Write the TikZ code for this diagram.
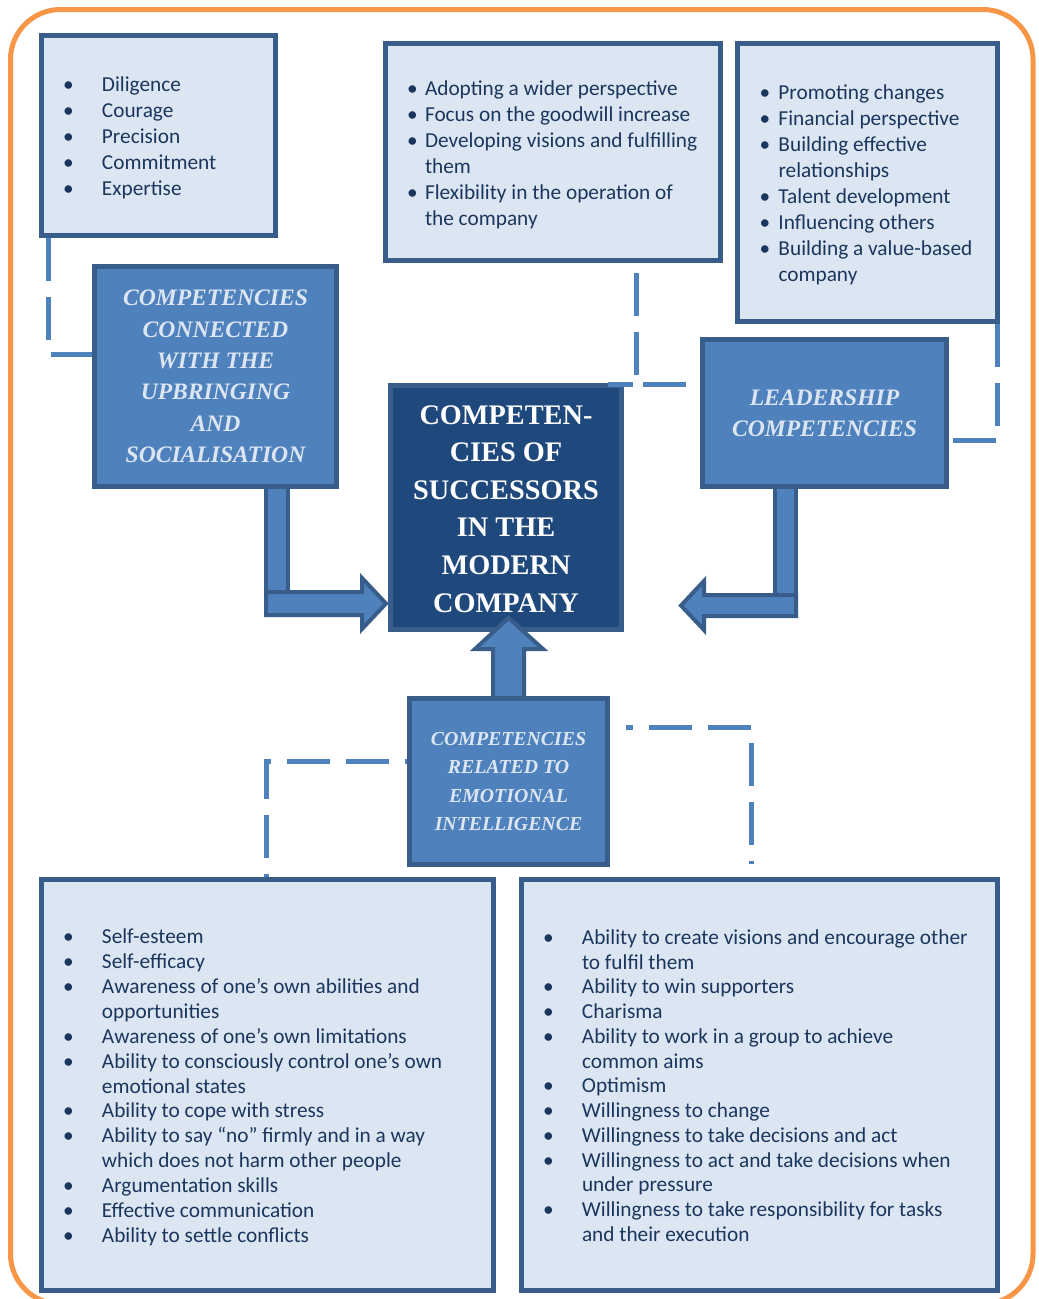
\documentclass[tikz,border=0pt]{standalone}
\usepackage{fontspec}
\setmainfont{Carlito}
\newfontfamily\titlefont{Liberation Serif}
\usetikzlibrary{calc}
\definecolor{lightfill}{HTML}{DCE6F2}
\definecolor{boxborder}{HTML}{385D8A}
\definecolor{midfill}{HTML}{4F81BD}
\definecolor{darkfill}{HTML}{1F497D}
\definecolor{framecol}{HTML}{F79646}
\definecolor{txtcol}{HTML}{1B365D}
\definecolor{titlecol}{HTML}{DCE6F2}
\newlength\bulw
\newcommand\bl[1]{\makebox[\bulw][l]{\textbullet}#1}
\newcommand\cl[1]{\hspace*{\bulw}#1}
\newcommand\lowered[1]{\raisebox{-3pt}[\height][\depth]{#1}}
\begin{document}
\begin{tikzpicture}[x=1pt,y=-1pt,
  lightbox/.style={draw=boxborder, fill=lightfill, line width=5pt, inner sep=0pt, text=txtcol},
  midbox/.style={draw=boxborder, fill=midfill, line width=5pt, inner sep=0pt, text=titlecol, align=center,
     font=\titlefont\bfseries\itshape\fontsize{23.6}{31.4}\selectfont},
  darkbox/.style={draw=boxborder, fill=darkfill, line width=5pt, inner sep=0pt, text=white, align=center,
     font=\titlefont\bfseries\fontsize{28.3}{37.6}\selectfont},
  blockarrow/.style={draw=boxborder, fill=midfill, line width=4pt, line join=miter},
  dashline/.style={draw=midfill, line width=5pt, dash pattern=on 43pt off 16pt},
  frame/.style={draw=framecol, line width=5pt, rounded corners=50pt}
]
\useasboundingbox (0,0) rectangle (1039,1299);
\clip (0,0) rectangle (1039,1299);
\draw[frame] (10.5,9.5) rectangle (1033,1304);

% elbow arrow bars (behind boxes)
\draw[blockarrow] (266,480) rectangle (288,615);
\draw[blockarrow] (775,480) rectangle (796,616);
\draw[blockarrow] (266,592) -- (362,592) -- (362,578) -- (386,603.5) -- (362,629) -- (362,615) -- (266,615) -- cycle;
\draw[blockarrow] (796,595) -- (704,595) -- (704,581) -- (681,605.5) -- (704,630) -- (704,616) -- (796,616) -- cycle;

% light boxes
\node[lightbox, minimum width=234pt, minimum height=200pt, font=\fontsize{21.3}{26}\selectfont] (A) at (158.5,135.5)
 {\setlength\bulw{39pt}\makebox[191pt][l]{\lowered{\begin{tabular}{@{}l@{}}
 \bl{Diligence}\\ \bl{Courage}\\ \bl{Precision}\\ \bl{Commitment}\\ \bl{Expertise}
 \end{tabular}}}};
\node[lightbox, minimum width=335pt, minimum height=217pt, font=\fontsize{21.3}{26}\selectfont] (B) at (553,152)
 {\setlength\bulw{18pt}\makebox[292pt][l]{\lowered{\begin{tabular}{@{}l@{}}
 \bl{Adopting a wider perspective}\\ \bl{Focus on the goodwill increase}\\
 \bl{Developing visions and fulfilling}\\ \cl{them}\\
 \bl{Flexibility in the operation of}\\ \cl{the company}
 \end{tabular}}}};
\node[lightbox, minimum width=260pt, minimum height=278pt, font=\fontsize{21.3}{26}\selectfont] (C) at (867.5,182.5)
 {\setlength\bulw{19pt}\makebox[216pt][l]{\lowered{\begin{tabular}{@{}l@{}}
 \bl{Promoting changes}\\ \bl{Financial perspective}\\ \bl{Building effective}\\ \cl{relationships}\\
 \bl{Talent development}\\ \bl{Influencing others}\\ \bl{Building a value-based}\\ \cl{company}
 \end{tabular}}}};
\node[lightbox, minimum width=452pt, minimum height=411pt, font=\fontsize{21.3}{24.95}\selectfont] (G) at (267.5,1085)
 {\setlength\bulw{39pt}\makebox[409pt][l]{\lowered{\begin{tabular}{@{}l@{}}
 \bl{Self-esteem}\\ \bl{Self-efficacy}\\
 \bl{Awareness of one’s own abilities and}\\ \cl{opportunities}\\
 \bl{Awareness of one’s own limitations}\\
 \bl{Ability to consciously control one’s own}\\ \cl{emotional states}\\
 \bl{Ability to cope with stress}\\
 \bl{Ability to say “no” firmly and in a way}\\ \cl{which does not harm other people}\\
 \bl{Argumentation skills}\\ \bl{Effective communication}\\ \bl{Ability to settle conflicts}
 \end{tabular}}}};
\node[lightbox, minimum width=476pt, minimum height=411pt, font=\fontsize{21.3}{24.75}\selectfont] (H) at (759.5,1085)
 {\setlength\bulw{39pt}\makebox[433pt][l]{\lowered{\begin{tabular}{@{}l@{}}
 \bl{Ability to create visions and encourage other}\\ \cl{to fulfil them}\\
 \bl{Ability to win supporters}\\ \bl{Charisma}\\
 \bl{Ability to work in a group to achieve}\\ \cl{common aims}\\
 \bl{Optimism}\\ \bl{Willingness to change}\\ \bl{Willingness to take decisions and act}\\
 \bl{Willingness to act and take decisions when}\\ \cl{under pressure}\\
 \bl{Willingness to take responsibility for tasks}\\ \cl{and their execution}
 \end{tabular}}}};

% medium boxes
\node[midbox, minimum width=242pt, minimum height=220pt] (D) at (215.5,376.5)
 {COMPETENCIES\\CONNECTED\\WITH THE\\UPBRINGING\\AND\\SOCIALISATION};
\node[midbox, minimum width=244pt, minimum height=147pt] (E) at (824.5,413)
 {LEADERSHIP\\COMPETENCIES};

% centre
\node[darkbox, minimum width=231pt, minimum height=244pt] (M) at (506,507.5)
 {\lowered{\begin{tabular}{@{}c@{}}COMPETEN-\\CIES OF\\SUCCESSORS\\IN THE\\MODERN\\COMPANY\end{tabular}}};

% up arrow
\draw[blockarrow] (493,700) -- (493,649) -- (475,649) -- (508.5,618) -- (543,649) -- (524,649) -- (524,700) -- cycle;

\node[midbox, minimum width=198pt, minimum height=166pt, font=\titlefont\bfseries\itshape\fontsize{19.8}{28.5}\selectfont] (F) at (508.5,781.5)
 {COMPETENCIES\\RELATED TO\\EMOTIONAL\\INTELLIGENCE};

% dashed connectors
\coordinate (ya) at (0,354);
\coordinate (xb) at (636,0);
\coordinate (yb) at (0,384);
\coordinate (yc) at (0,440);
\coordinate (yf) at (0,761);
\coordinate (xg) at (266,0);
\coordinate (hs) at (626,727);
\coordinate (he) at (751,864);
\coordinate (ms) at (608,384.5);
\coordinate (me) at (633,384.5);

\draw[dashline] ([xshift=9.5pt]A.south west) |- (D.west |- ya);
\draw[dashline, dash phase=49.5pt] (B.south -| xb) |- (E.west |- yb);
\draw[dashline] (ms) -- (me);
\draw[dashline] ([xshift=-2.5pt]C.south east) |- (E.east |- yc);
\draw[dashline, dash phase=41pt] (F.west |- yf) -| (G.north -| xg);
\draw[dashline, dash phase=36pt] (hs) -| (he);
\end{tikzpicture}
\end{document}
